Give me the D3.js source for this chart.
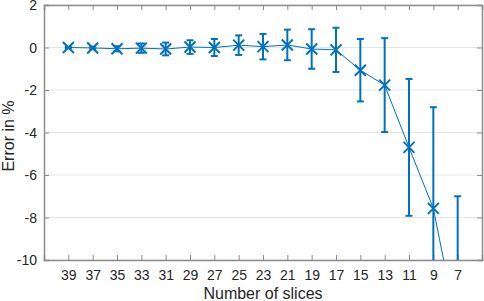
<!DOCTYPE html>
<html>
<head>
<meta charset="utf-8">
<script src="https://cdn.jsdelivr.net/npm/d3@7"></script>
<style>
  body { margin: 0; background: #fff; }
  svg text { font-family: "Liberation Sans", Arial, sans-serif; fill: #262626; }
</style>
</head>
<body>
<div id="chart"></div>
<script>
var slices = [39, 37, 35, 33, 31, 29, 27, 25, 23, 21, 19, 17, 15, 13, 11, 9, 7];
var errors = [0.00, -0.02, -0.06, -0.03, -0.07, 0.02, 0.00, 0.11, 0.04, 0.12, -0.07, -0.11, -1.07, -1.77, -4.70, -7.57, -13.3];
var spread = [0.03, 0.06, 0.12, 0.22, 0.30, 0.32, 0.40, 0.46, 0.60, 0.72, 0.93, 1.04, 1.47, 2.21, 3.22, 4.76, 6.30];
var y_ticks = [2, 0, -2, -4, -6, -8, -10];

var data = slices.map((s, i) => ({ n: s, e: errors[i], sd: spread[i] }));

var width = 484, height = 301;
var margins = { top: 5, right: 2, bottom: 41, left: 44 };
var blue = "#0072BD";

var svg = d3.select("#chart").append("svg")
  .attr("width", width)
  .attr("height", height);

var x = d3.scaleLinear()
  .domain([41, 5])
  .range([margins.left, width - margins.right]);

var y = d3.scaleLinear()
  .domain([-10, 2])
  .range([height - margins.bottom, margins.top]);

// grid lines
svg.append("g")
  .selectAll("line")
  .data(y_ticks)
  .join("line")
  .attr("x1", margins.left)
  .attr("x2", width - margins.right)
  .attr("y1", d => y(d))
  .attr("y2", d => y(d))
  .attr("stroke", "#e6e6e6")
  .attr("stroke-width", 1);

// axes with inward ticks, plain hyphen for negatives
var tick_len = 5;
var fmt = d => String(d);

var x_axis = svg.append("g")
  .attr("transform", "translate(0," + (height - margins.bottom) + ")")
  .call(d3.axisBottom(x).tickValues(slices).tickSize(-tick_len).tickPadding(10).tickFormat(fmt));

var x_top = svg.append("g")
  .attr("transform", "translate(0," + margins.top + ")")
  .call(d3.axisTop(x).tickValues(slices).tickSize(-tick_len).tickFormat(""));

var y_axis = svg.append("g")
  .attr("transform", "translate(" + margins.left + ",0)")
  .call(d3.axisLeft(y).tickValues(y_ticks).tickSize(-tick_len).tickPadding(7).tickFormat(fmt));

var y_right = svg.append("g")
  .attr("transform", "translate(" + (width - margins.right) + ",0)")
  .call(d3.axisRight(y).tickValues(y_ticks).tickSize(-tick_len).tickFormat(""));

[x_axis, x_top, y_axis, y_right].forEach(g => {
  g.select(".domain").attr("stroke", "#8c8c8c").attr("stroke-width", 1.5);
  g.selectAll(".tick line").attr("stroke", "#8c8c8c");
  g.selectAll(".tick text")
    .attr("font-size", 14)
    .attr("fill", "#262626")
    .attr("font-family", "Liberation Sans, Arial, sans-serif");
});
y_axis.selectAll(".tick text").attr("dy", "0.35em");

// clip to the plot box
svg.append("clipPath").attr("id", "plot-clip")
  .append("rect")
  .attr("x", margins.left)
  .attr("y", margins.top)
  .attr("width", width - margins.left - margins.right)
  .attr("height", height - margins.top - margins.bottom);

var plot = svg.append("g").attr("clip-path", "url(#plot-clip)");

// connecting line
var line = d3.line()
  .x(d => x(d.n))
  .y(d => y(d.e));

plot.append("path")
  .datum(data)
  .attr("fill", "none")
  .attr("stroke", blue)
  .attr("stroke-width", 1)
  .attr("d", line);

// error bars
var cap = 3.5;
var bars = plot.append("g")
  .attr("stroke", blue)
  .attr("stroke-width", 2)
  .selectAll("g")
  .data(data)
  .join("g");

bars.append("line")
  .attr("x1", d => x(d.n)).attr("x2", d => x(d.n))
  .attr("y1", d => y(d.e + d.sd)).attr("y2", d => y(d.e - d.sd));

bars.append("line")
  .attr("x1", d => x(d.n) - cap).attr("x2", d => x(d.n) + cap)
  .attr("y1", d => y(d.e + d.sd)).attr("y2", d => y(d.e + d.sd));

bars.append("line")
  .attr("x1", d => x(d.n) - cap).attr("x2", d => x(d.n) + cap)
  .attr("y1", d => y(d.e - d.sd)).attr("y2", d => y(d.e - d.sd));

// x markers
var m = 5.5;
plot.append("g")
  .selectAll("path")
  .data(data)
  .join("path")
  .attr("fill", "none")
  .attr("stroke", blue)
  .attr("stroke-width", 2)
  .attr("d", d => {
    var cx = x(d.n), cy = y(d.e);
    return "M" + (cx - m) + "," + (cy - m) + "L" + (cx + m) + "," + (cy + m) +
      "M" + (cx - m) + "," + (cy + m) + "L" + (cx + m) + "," + (cy - m);
  });

// axis labels
svg.append("text")
  .attr("x", (margins.left + width - margins.right) / 2)
  .attr("y", 299)
  .attr("text-anchor", "middle")
  .attr("font-size", 16)
  .text("Number of slices");

svg.append("text")
  .attr("transform", "translate(14,136) rotate(-90)")
  .attr("text-anchor", "middle")
  .attr("font-size", 16)
  .text("Error in %");
</script>
</body>
</html>
